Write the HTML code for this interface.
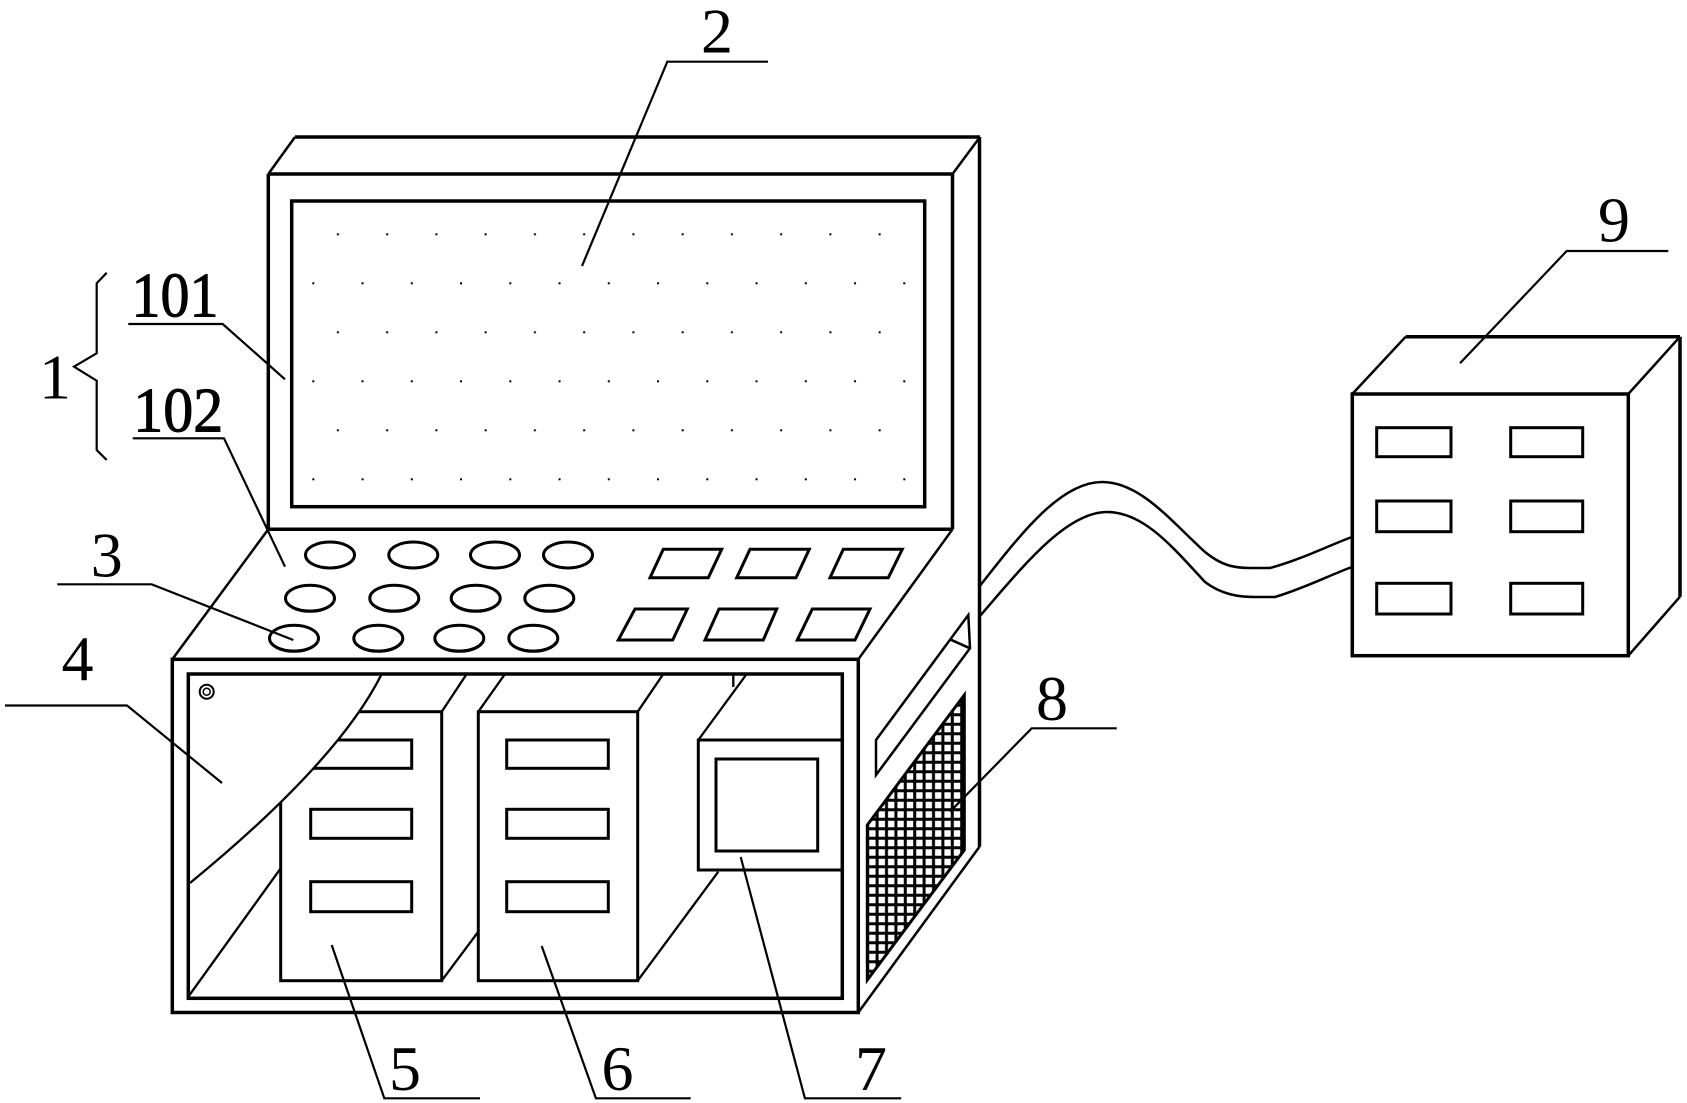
<!DOCTYPE html>
<html>
<head>
<meta charset="utf-8">
<style>
  html,body{margin:0;padding:0;background:#fff;}
  svg{display:block;}
  text{font-family:"Liberation Serif","Noto Serif CJK SC",serif;font-size:64px;fill:#000;}
</style>
</head>
<body>
<svg width="1687" height="1103" viewBox="0 0 1687 1103" xmlns="http://www.w3.org/2000/svg">
  <defs>
    <clipPath id="doorClip">
      <path d="M190,883 Q337.8,761.8 381.7,674 L900,674 L900,1000 L190,1000 Z"/>
    </clipPath>
    <pattern id="dots" patternUnits="userSpaceOnUse" x="312.3" y="282.3" width="49.25" height="98">
      <rect x="0" y="0" width="2" height="2" fill="#000"/>
      <rect x="24.6" y="49" width="2" height="2" fill="#000"/>
    </pattern>
    <pattern id="grid" patternUnits="userSpaceOnUse" x="863" y="691" width="9.4" height="9.5">
      <path d="M0,4.75 H9.4 M4.7,0 V9.5" stroke="#000" stroke-width="3" fill="none"/>
    </pattern>
  </defs>

  <!-- screen dots -->
  <rect x="305" y="230" width="610" height="260" fill="url(#dots)"/>

  <!-- grille -->
  <polygon points="867.3,825 964.3,695 964.3,850 867.3,980" fill="url(#grid)"/>

  <g fill="none" stroke="#000">
    <!-- Monitor -->
    <g stroke-width="3.5">
      <line x1="295" y1="137" x2="980" y2="137"/>
      <line x1="268.3" y1="174" x2="952.5" y2="174"/>
      <line x1="268.3" y1="174" x2="268.3" y2="529.3"/>
      <line x1="952.5" y1="174" x2="952.5" y2="529.3"/>
      <line x1="268.3" y1="529.3" x2="952.5" y2="529.3"/>
      <line x1="979.5" y1="137" x2="979.5" y2="846.7"/>
      <rect x="291.7" y="201" width="633" height="305.7"/>
    </g>
    <g stroke-width="2.5">
      <line x1="268.3" y1="174" x2="295" y2="137"/>
      <line x1="952.5" y1="174" x2="980" y2="137"/>
      <line x1="268.3" y1="529.3" x2="172.3" y2="659.3"/>
      <line x1="952.5" y1="529.3" x2="858.3" y2="659.3"/>
    </g>

    <!-- buttons -->
    <g stroke-width="3">
      <ellipse cx="330" cy="555" rx="24.5" ry="13"/>
      <ellipse cx="413.3" cy="555" rx="24.5" ry="13"/>
      <ellipse cx="495" cy="555" rx="24.5" ry="13"/>
      <ellipse cx="568" cy="555" rx="24.5" ry="13"/>
      <ellipse cx="310" cy="598.3" rx="24.5" ry="13"/>
      <ellipse cx="394.3" cy="598.3" rx="24.5" ry="13"/>
      <ellipse cx="475.7" cy="598.3" rx="24.5" ry="13"/>
      <ellipse cx="549.3" cy="598.3" rx="24.5" ry="13"/>
      <ellipse cx="294" cy="638.3" rx="24.5" ry="13"/>
      <ellipse cx="378.3" cy="638.3" rx="24.5" ry="13"/>
      <ellipse cx="459.3" cy="638.3" rx="24.5" ry="13"/>
      <ellipse cx="533.3" cy="638.3" rx="24.5" ry="13"/>
    </g>
    <path stroke-width="2" d="M307,559 A24,12 0 0 0 353,559 M390,559 A24,12 0 0 0 436,559 M472,559 A24,12 0 0 0 518,559 M545,559 A24,12 0 0 0 591,559 M287,602 A24,12 0 0 0 333,602 M371,602 A24,12 0 0 0 417,602 M453,602 A24,12 0 0 0 499,602 M526,602 A24,12 0 0 0 572,602 M271,642 A24,12 0 0 0 317,642 M355,642 A24,12 0 0 0 401,642 M436,642 A24,12 0 0 0 482,642 M510,642 A24,12 0 0 0 556,642"/>

    <!-- keys -->
    <g stroke-width="3">
      <polygon points="663.3,549.3 721.7,549.3 708.3,577.7 650,577.7"/>
      <polygon points="750,549.3 809.3,549.3 796,577.7 736.7,577.7"/>
      <polygon points="843.3,549.3 902.3,549.3 888.3,577.7 830,577.7"/>
      <polygon points="635,609 687.3,609 672.7,640 618.3,640"/>
      <polygon points="719,609 776.7,609 763.3,640 705,640"/>
      <polygon points="812.3,609 870,609 855,640 797.3,640"/>
    </g>

    <!-- Base -->
    <g stroke-width="3.5">
      <rect x="172.3" y="659.3" width="686" height="353.2"/>
      <rect x="188.3" y="674" width="654" height="324.3"/>
    </g>
    <circle cx="206.7" cy="691.7" r="7" stroke-width="2"/>
    <circle cx="206.7" cy="691.7" r="3.5" stroke-width="1.5"/>

    <g stroke-width="2.3">
      <path d="M190,883 Q337.8,761.8 381.7,674"/>
      <line x1="188.3" y1="996.7" x2="280.7" y2="868.3"/>
    </g>

    <!-- unit 5 -->
    <g clip-path="url(#doorClip)" stroke-width="3">
      <rect x="280.7" y="711.7" width="161" height="269"/>
      <rect x="310.7" y="740" width="101" height="28.3"/>
    </g>
    <g stroke-width="3">
      <rect x="310.7" y="809.3" width="101" height="29"/>
      <rect x="310.7" y="881.7" width="101" height="30"/>
    </g>
    <g stroke-width="2.3">
      <line x1="441.7" y1="711.7" x2="466.7" y2="674"/>
      <line x1="441.7" y1="980.7" x2="478.3" y2="931.7"/>
    </g>

    <!-- unit 6 -->
    <g stroke-width="3">
      <rect x="478.3" y="711.7" width="159.4" height="269"/>
      <rect x="506.7" y="740" width="101.6" height="28.3"/>
      <rect x="506.7" y="809.3" width="101.6" height="29"/>
      <rect x="506.7" y="881.7" width="101.6" height="30"/>
    </g>
    <g stroke-width="2.3">
      <line x1="478.3" y1="711.7" x2="505" y2="674"/>
      <line x1="637.7" y1="711.7" x2="663.3" y2="674"/>
      <line x1="637.7" y1="980.7" x2="718.3" y2="871.7"/>
    </g>

    <!-- unit 7 -->
    <g stroke-width="3">
      <polyline points="842.3,740 698.3,740 698.3,870 842.3,870"/>
      <rect x="716" y="759" width="101.7" height="92"/>
    </g>
    <g stroke-width="2.3">
      <line x1="698.3" y1="740" x2="746.7" y2="674"/>
      <line x1="733.3" y1="674" x2="733.3" y2="687"/>
    </g>

    <!-- base right side -->
    <g stroke-width="2.5">
      <line x1="858.3" y1="1012.5" x2="979.5" y2="846.7"/>
      <polygon points="876,740 968.3,615 970,648.3 876,775"/>
      <line x1="950" y1="639.3" x2="970" y2="648.3"/>
    </g>
    <polygon points="867.3,825 964.3,695 964.3,850 867.3,980" stroke-width="3"/>

    <!-- cable -->
    <g stroke-width="2.5">
      <path d="M979,587 C1020,535 1060,482 1102,482 C1140,482 1170,520 1205,552 C1222,566 1235,568 1250,568 L1270,568 C1300,560 1330,545 1352,537"/>
      <path d="M979,617 C1020,570 1065,512 1107,512 C1145,512 1175,550 1205,582 C1222,595 1240,597 1255,597 L1275,597 C1305,588 1330,575 1352,567"/>
    </g>

    <!-- Box 9 -->
    <g stroke-width="3.5">
      <rect x="1352.3" y="394" width="276" height="261.7"/>
      <line x1="1405.7" y1="336.7" x2="1680" y2="336.7"/>
      <line x1="1680" y1="336.7" x2="1680" y2="596.7"/>
    </g>
    <g stroke-width="2.5">
      <line x1="1352.3" y1="394" x2="1405.7" y2="336.7"/>
      <line x1="1628.3" y1="394" x2="1680" y2="336.7"/>
      <line x1="1628.3" y1="655.7" x2="1680" y2="596.7"/>
    </g>
    <g stroke-width="3">
      <rect x="1376.7" y="427.7" width="74.3" height="29"/>
      <rect x="1510.7" y="427.7" width="72" height="29"/>
      <rect x="1376.7" y="501" width="74.3" height="30.7"/>
      <rect x="1510.7" y="501" width="72" height="30.7"/>
      <rect x="1376.7" y="583.3" width="74.3" height="30.7"/>
      <rect x="1510.7" y="583.3" width="72" height="30.7"/>
    </g>

    <!-- Leaders -->
    <g stroke-width="2.2">
      <polyline points="768,61.7 667.3,61.7 582,266"/>
      <polyline points="128.3,324 222.7,324 285,379.3"/>
      <polyline points="132.7,438.3 224,438.3 285,566.7"/>
      <polyline points="57.3,584.3 151.7,584.3 293.3,640"/>
      <polyline points="5,705.5 127,705.5 222,783"/>
      <polyline points="331.7,945 384.3,1098.3 480,1098.3"/>
      <polyline points="541.7,946 595.9,1098.3 690.7,1098.3"/>
      <polyline points="740.7,857 804.9,1098.3 901.2,1098.3"/>
      <polyline points="950,811.7 1031.7,728.3 1116.7,728.3"/>
      <polyline points="1460,363.3 1566.7,251 1668.3,251"/>
      <polyline points="106.7,272.7 96.7,283.3 96.7,353.3 74,366.7 96.7,380.7 96.7,450 106.7,460"/>
    </g>
  </g>

  <!-- labels -->
  <g text-anchor="middle">
    <text x="717" y="52.3">2</text>
    <text x="175" y="316.7" stroke="#000" stroke-width="1" textLength="87" lengthAdjust="spacingAndGlyphs">101</text>
    <text x="178.3" y="431.7" stroke="#000" stroke-width="1" textLength="90" lengthAdjust="spacingAndGlyphs">102</text>
    <text x="55" y="398.3">1</text>
    <text x="106.7" y="576.7">3</text>
    <text x="77.5" y="680">4</text>
    <text x="405" y="1090">5</text>
    <text x="617.5" y="1090">6</text>
    <text x="871" y="1090">7</text>
    <text x="1052" y="720">8</text>
    <text x="1614" y="241.7">9</text>
  </g>
</svg>
</body>
</html>
